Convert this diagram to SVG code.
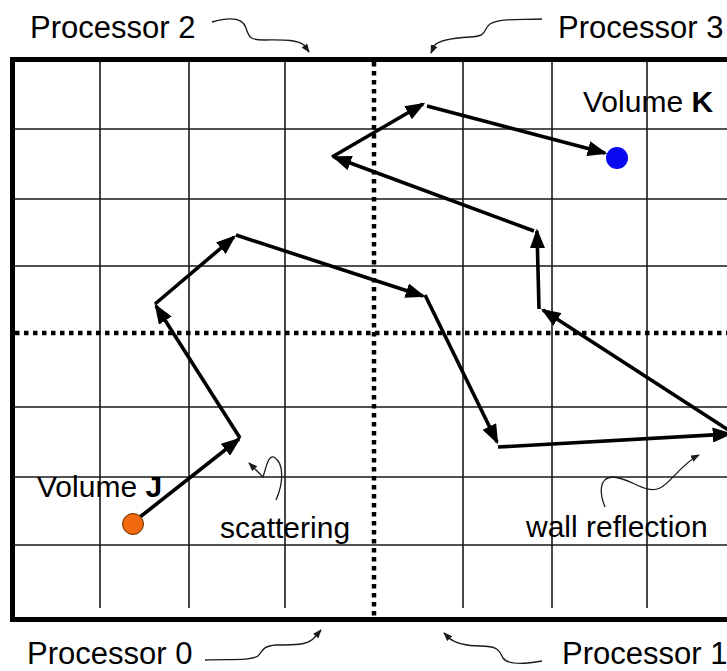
<svg xmlns="http://www.w3.org/2000/svg" width="727" height="671" viewBox="0 0 727 671">
  <style>
    .grid { stroke: #1a1a1a; stroke-width: 1.6; fill: none; }
    .border { stroke: #000; stroke-width: 5; fill: none; }
    .split { stroke: #000; stroke-width: 4.5; stroke-dasharray: 4.5 4.5; fill: none; }
    .path { stroke: #000; stroke-width: 3.6; fill: none; marker-end: url(#head); }
    .note { stroke: #1a1a1a; stroke-width: 1.3; fill: none; marker-end: url(#small); }
    text { font-family: "Liberation Sans", Arial, sans-serif; fill: #000; }
    .big { font-size: 31px; }
    .lbl { font-size: 30px; }
  </style>
  <defs>
    <marker id="head" viewBox="0 0 5.5 4.2" refX="4.8" refY="2.1" markerWidth="5.5" markerHeight="4.2" orient="auto" markerUnits="strokeWidth">
      <path d="M0,0 L5.5,2.1 L0,4.2 z" fill="#000"/>
    </marker>
    <marker id="small" viewBox="0 0 9 7" refX="8" refY="3.5" markerWidth="9" markerHeight="7" orient="auto" markerUnits="userSpaceOnUse">
      <path d="M0,0 L9,3.5 L0,7 z" fill="#1a1a1a"/>
    </marker>
  </defs>

  <rect width="727" height="671" fill="#fff"/>

  <!-- cell grid -->
  <g id="grid">
    <path class="grid" d="M100,60 V608 M189,60 V608 M285,60 V608 M463,60 V608 M552,60 V608 M647,60 V608"/>
    <path class="grid" d="M13,129 H727 M13,199 H727 M13,266 H727 M13,407 H727 M13,477 H727 M13,545 H727"/>
  </g>

  <!-- processor partition lines -->
  <g id="partitions">
    <path class="split" d="M374,62 V618"/>
    <path class="split" d="M15,333 H727"/>
  </g>

  <!-- domain walls -->
  <g id="domain">
    <path class="border" d="M727,59.5 H12.5 V619.5 H727"/>
  </g>

  <!-- particle trajectory -->
  <g id="connectors">
    <line class="path" x1="140" y1="517" x2="239" y2="439"/>
    <line class="path" x1="240" y1="438" x2="156" y2="306"/>
    <line class="path" x1="155" y1="304" x2="234" y2="237"/>
    <line class="path" x1="236" y1="235" x2="423" y2="296"/>
    <line class="path" x1="425" y1="295" x2="497" y2="442"/>
    <line class="path" x1="498" y1="447" x2="730" y2="434"/>
    <line class="path" x1="733" y1="433" x2="543" y2="310"/>
    <line class="path" x1="539" y1="309" x2="537" y2="231"/>
    <line class="path" x1="534" y1="231" x2="334" y2="157"/>
    <line class="path" x1="332" y1="157" x2="423" y2="104"/>
    <line class="path" x1="427" y1="106" x2="605" y2="153"/>
  </g>

  <!-- annotation leaders -->
  <g id="leaders">
    <path class="note" d="M212,22 C230,17 243,18 246,28 C249,38 251,40 264,40 C282,40 296,39 304,45 L309,52"/>
    <path class="note" d="M542,19 C520,20 500,18 490,24 C482,30 489,36 470,37 C452,38 438,40 434,46 L431,53"/>
    <path class="note" d="M205,660 C230,659 250,661 258,656 C263,650 263,646 276,645 C296,645 306,645 313,639 L321,630"/>
    <path class="note" d="M542,661 C525,664 508,665 503,658 C499,650 498,646 480,646 C465,646 455,643 449,638 L444,633"/>
    <path class="note" d="M276,500 C283,484 285,464 274,457 C268,455 266,468 263,477 L249,463"/>
    <path class="note" d="M605,507 C600,495 598,478 612,477 C630,477 645,495 660,488 C672,482 680,465 699,455"/>
  </g>

  <!-- source and target volumes -->
  <g id="volume-j">
    <circle cx="133" cy="524" r="10.5" fill="#f26a10" stroke="#6b2a00" stroke-width="1"/>
    <text class="lbl" x="37" y="497">Volume <tspan font-weight="bold">J</tspan></text>
  </g>
  <g id="volume-k">
    <circle cx="617" cy="158" r="11" fill="#0a0af0"/>
    <text class="lbl" x="583" y="112">Volume <tspan font-weight="bold">K</tspan></text>
  </g>

  <!-- processor labels -->
  <g id="processor-2"><text class="big" x="30" y="38">Processor 2</text></g>
  <g id="processor-3"><text class="big" x="558" y="38">Processor 3</text></g>
  <g id="processor-0"><text class="big" x="27" y="664">Processor 0</text></g>
  <g id="processor-1"><text class="big" x="562" y="664">Processor 1</text></g>

  <!-- event labels -->
  <g id="scattering"><text class="lbl" x="220" y="538">scattering</text></g>
  <g id="wall-reflection"><text class="lbl" x="526" y="537">wall reflection</text></g>
</svg>
